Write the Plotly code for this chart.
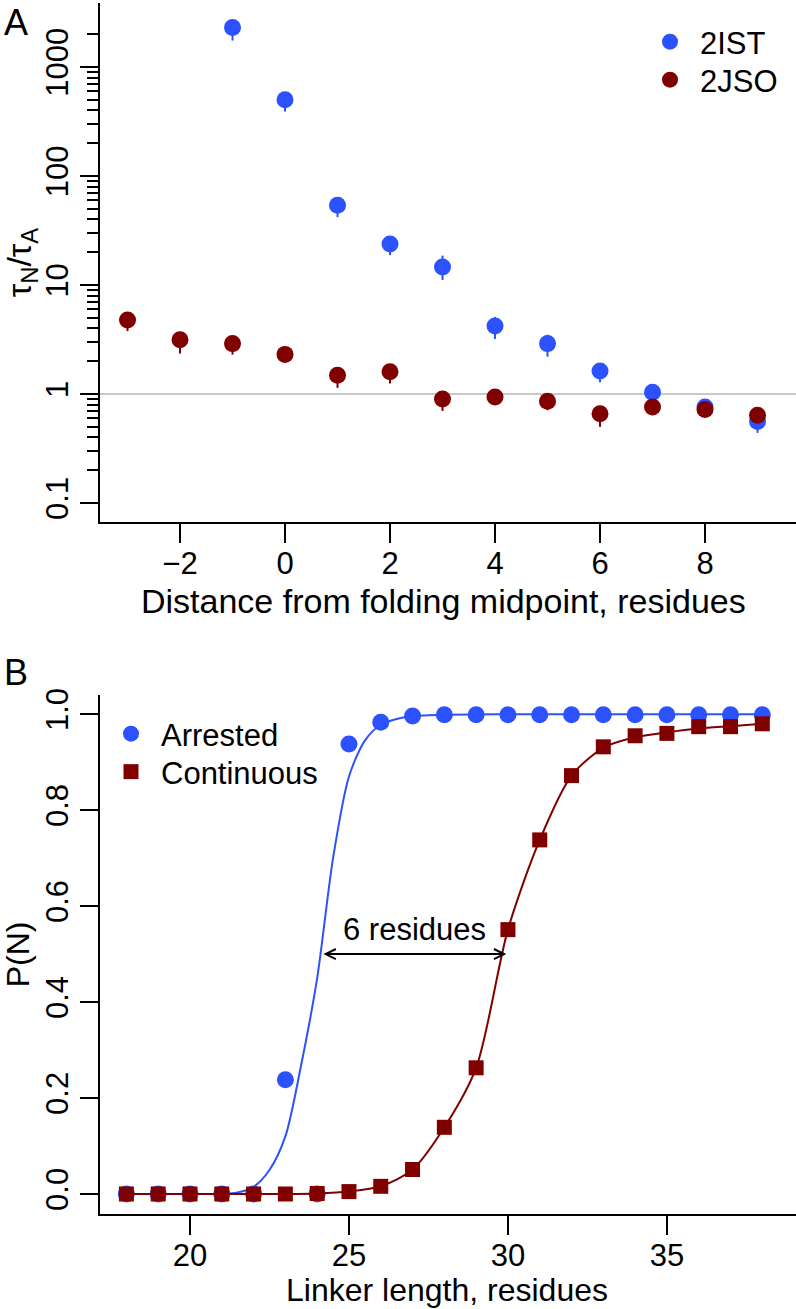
import plotly.graph_objects as go

# ---------------- Panel A data ----------------
dist = [-3, -2, -1, 0, 1, 2, 3, 4, 5, 6, 7, 8, 9]
ist_x = [-1, 0, 1, 2, 3, 4, 5, 6, 7, 8, 9]
ist_y = [2300, 500, 54, 23.8, 14.6, 4.2, 2.9, 1.63, 1.04, 0.76, 0.56]
ist_err_plus = [250, 60, 6, 3.5, 4.0, 0.9, 0.6, 0.2, 0.12, 0.08, 0.05]
ist_err_minus = [550, 110, 12, 5.0, 3.5, 1.0, 0.7, 0.35, 0.15, 0.12, 0.12]
jso_y = [4.78, 3.15, 2.9, 2.31, 1.49, 1.6, 0.90, 0.94, 0.86, 0.66, 0.76, 0.72, 0.64]
jso_err_plus = [0.5, 0.5, 0.3, 0.2, 0.15, 0.2, 0.08, 0.06, 0.08, 0.12, 0.08, 0.06, 0.05]
jso_err_minus = [1.0, 0.8, 0.6, 0.3, 0.35, 0.35, 0.2, 0.1, 0.15, 0.16, 0.12, 0.1, 0.08]
a_xticks = [-2, 0, 2, 4, 6, 8]
a_xticklabels = ["\u22122", "0", "2", "4", "6", "8"]
a_yticks = [0.1, 1, 10, 100, 1000]
a_yticklabels = ["0.1", "1", "10", "100", "1000"]

# ---------------- Panel B data ----------------
linker = list(range(18, 39))
arrested = [0, 0, 0, 0, 0, 0.238, 0, 0.938, 0.983, 0.996, 0.999, 0.999, 0.999,
            0.999, 0.999, 0.999, 0.999, 0.999, 0.999, 0.999, 0.999]
continuous = [0, 0, 0, 0, 0, 0, 0.001, 0.005, 0.016, 0.051, 0.139, 0.263, 0.551,
              0.738, 0.872, 0.932, 0.955, 0.960, 0.974, 0.974, 0.980]
# fitted curves
arr_fit_x = [18, 20, 21, 21.5, 22, 22.5, 23, 23.5, 24, 24.5, 25, 25.5, 26, 26.5, 27, 28, 30, 34, 38]
arr_fit_y = [0, 0, 0.0, 0.003, 0.015, 0.05, 0.12, 0.27, 0.45, 0.70, 0.87, 0.945, 0.978, 0.99, 0.996, 0.999, 1.0, 1.0, 1.0]
cont_fit_x = [18, 20, 22, 23, 24, 25, 26, 27, 28, 29, 30, 31, 32, 33, 34, 35, 36, 37, 38]
cont_fit_y = [0, 0, 0, 0, 0.001, 0.005, 0.016, 0.051, 0.139, 0.263, 0.551, 0.738, 0.872, 0.930, 0.952, 0.962, 0.970, 0.975, 0.980]
mid_arrested = 24.15
mid_continuous = 29.95
b_xticks = [20, 25, 30, 35]
b_yticks = [0.0, 0.2, 0.4, 0.6, 0.8, 1.0]
b_yticklabels = ["0.0", "0.2", "0.4", "0.6", "0.8", "1.0"]

BLUE = "#2c52ff"
RED = "#800000"
FONT = "Liberation Sans, Arial, sans-serif"
FS = 31

W, H = 796, 1309
PLOT_L, PLOT_R, PLOT_T, PLOT_B = 100, 796, 3, 1214   # pixels


def px_x(p):
    return (p - PLOT_L) / float(PLOT_R - PLOT_L)


def px_y(p):
    return (PLOT_B - p) / float(PLOT_B - PLOT_T)


fig = go.Figure()

# Panel A
fig.add_trace(go.Scatter(
    x=ist_x, y=ist_y, mode="markers", name="2IST",
    marker=dict(color=BLUE, size=17),
    error_y=dict(type="data", symmetric=False, array=ist_err_plus, arrayminus=ist_err_minus,
                 color=BLUE, thickness=2, width=0),
    xaxis="x", yaxis="y", legend="legend"))
fig.add_trace(go.Scatter(
    x=dist, y=jso_y, mode="markers", name="2JSO",
    marker=dict(color=RED, size=17),
    error_y=dict(type="data", symmetric=False, array=jso_err_plus, arrayminus=jso_err_minus,
                 color=RED, thickness=2, width=0),
    xaxis="x", yaxis="y", legend="legend3"))

# Panel B
fig.add_trace(go.Scatter(x=arr_fit_x, y=arr_fit_y, mode="lines",
                         line=dict(color=BLUE, width=2, shape="spline", smoothing=0.8),
                         showlegend=False, xaxis="x2", yaxis="y2", hoverinfo="skip"))
fig.add_trace(go.Scatter(x=linker, y=arrested, mode="markers", name="Arrested",
                         marker=dict(color=BLUE, size=17, symbol="circle"),
                         xaxis="x2", yaxis="y2", legend="legend2"))
fig.add_trace(go.Scatter(x=cont_fit_x, y=cont_fit_y, mode="lines",
                         line=dict(color=RED, width=2, shape="spline", smoothing=0.8),
                         showlegend=False, xaxis="x2", yaxis="y2", hoverinfo="skip"))
fig.add_trace(go.Scatter(x=linker, y=continuous, mode="markers", name="Continuous",
                         marker=dict(color=RED, size=15, symbol="square"),
                         xaxis="x2", yaxis="y2", legend="legend4"))

minor_a = [k * 10 ** e for e in range(-1, 4) for k in range(2, 10) if k * 10 ** e <= 2000]

axis_common = dict(showline=True, linecolor="black", linewidth=2, ticks="outside",
                   tickwidth=2, tickcolor="black", showgrid=False, zeroline=False,
                   automargin=False,
                   tickfont=dict(family=FONT, size=FS, color="black"))


def leg(xp, yp):
    return dict(x=px_x(xp), y=px_y(yp), xanchor="left", yanchor="middle", itemwidth=50,
                bgcolor="rgba(0,0,0,0)", font=dict(size=FS), tracegroupgap=0)


fig.update_layout(
    width=W, height=H,
    margin=dict(l=PLOT_L, r=W - PLOT_R, t=PLOT_T, b=H - PLOT_B, autoexpand=False),
    paper_bgcolor="white", plot_bgcolor="white",
    font=dict(family=FONT, size=FS, color="black"),
    xaxis=dict(domain=[0, 1], range=[-3.524, 9.733], tickvals=a_xticks, ticktext=a_xticklabels,
               ticklen=19, anchor="y", ticklabelstandoff=-6,
               **axis_common),
    yaxis=dict(domain=[px_y(522), 1], type="log", range=[-1.174, 3.587], tickvals=a_yticks,
               ticktext=a_yticklabels, tickangle=-90, ticklen=18, anchor="x",
               minor=dict(tickvals=minor_a, ticks="outside", ticklen=11, tickwidth=2, tickcolor="black"),
               title=dict(text="\u03c4<sub>N</sub>/\u03c4<sub>A</sub>", font=dict(size=34), standoff=12),
               **axis_common),
    xaxis2=dict(domain=[0, 1], range=[17.17, 39.06], tickvals=b_xticks, ticklen=19, anchor="y2",
                ticklabelstandoff=-6,
                **axis_common),
    yaxis2=dict(domain=[0, px_y(695)], range=[-0.0417, 1.04], tickvals=b_yticks, ticktext=b_yticklabels,
                tickangle=-90, ticklen=18, anchor="x2",
                title=dict(text="P(N)", font=dict(size=32), standoff=5),
                **axis_common),
    legend=leg(640, 42),
    legend3=leg(640, 80),
    legend2=leg(101, 734),
    legend4=leg(101, 772),
    showlegend=True,
)

# reference line at ratio 1
fig.add_shape(type="line", xref="paper", yref="y", x0=0, x1=1, y0=1, y1=1,
              line=dict(color="#c8c8c8", width=2), layer="below")

# x-axis titles
fig.add_annotation(text="Distance from folding midpoint, residues", xref="paper", yref="paper",
                   x=px_x(443), y=px_y(601), xanchor="center", yanchor="middle",
                   showarrow=False, font=dict(size=34))
fig.add_annotation(text="Linker length, residues", xref="paper", yref="paper",
                   x=px_x(447), y=px_y(1290), xanchor="center", yanchor="middle",
                   showarrow=False, font=dict(size=32))

# panel letters
fig.add_annotation(text="A", xref="paper", yref="paper", x=px_x(2), y=px_y(0),
                   xanchor="left", yanchor="top", showarrow=False, font=dict(size=36))
fig.add_annotation(text="B", xref="paper", yref="paper", x=px_x(2), y=px_y(650),
                   xanchor="left", yanchor="top", showarrow=False, font=dict(size=36))

# double arrow between midpoints
fig.add_annotation(x=mid_continuous, y=0.5, ax=mid_arrested, ay=0.5,
                   xref="x2", yref="y2", axref="x2", ayref="y2", text="",
                   showarrow=True, arrowhead=5, startarrowhead=5, arrowside="end+start",
                   arrowwidth=2, arrowsize=1, startarrowsize=1, arrowcolor="black",
                   standoff=0, startstandoff=0)
fig.add_annotation(x=(mid_arrested + mid_continuous) / 2, y=0.5, xref="x2", yref="y2",
                   text="6 residues", showarrow=False, yshift=25, font=dict(size=FS))

# remove the default 8 px page margin so the figure sits at the window origin
fig.write_html("out.html", config={"displayModeBar": False},
               post_script="document.body.style.margin='0';")
